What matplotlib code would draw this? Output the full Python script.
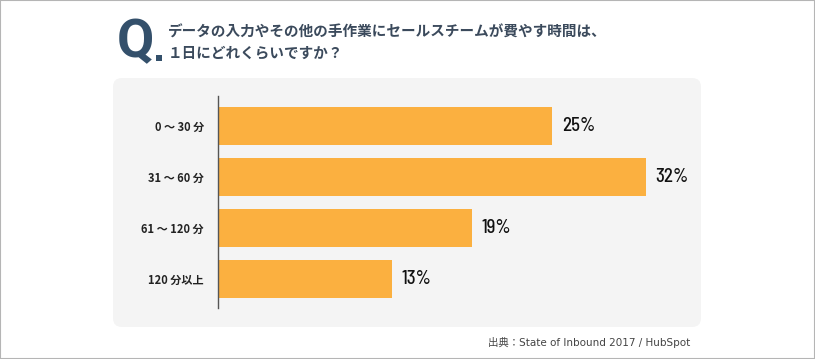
import matplotlib.pyplot as plt
from matplotlib.patches import FancyBboxPatch, Rectangle

W, H = 815, 359

categories = ["0 ～ 30 分", "31 ～ 60 分", "61 ～ 120 分", "120 分以上"]
values = [25, 32, 19, 13]
title_lines = ["データの入力やその他の手作業にセールスチームが費やす時間は、",
               "１日にどれくらいですか？"]
source = "出典：State of Inbound 2017 / HubSpot"

JP = "Noto Sans CJK JP"
SEMI = "Barlow Semi Condensed"

BAR_COLOR = "#fbb040"
NAVY = "#34506b"


def fx(x):
    return x / W


def fy(y):
    return 1 - y / H


fig = plt.figure(figsize=(W / 100, H / 100), dpi=100)
fig.patch.set_facecolor("white")

# outer border
fig.patches.append(Rectangle((0, 0), 1, 1, transform=fig.transFigure,
                             fill=False, edgecolor="#b5b5b5", linewidth=1.5))

# grey rounded panel
fig.patches.append(FancyBboxPatch((113, H - 327), 588, 249,
                                  boxstyle="round,pad=0,rounding_size=9",
                                  transform=None, facecolor="#f4f4f4",
                                  edgecolor="none", zorder=-5))

# title "Q." mark
fig.text(fx(117), fy(57), "Q", fontsize=39, fontweight="bold", color=NAVY,
         family="Roboto", ha="left", va="baseline")
fig.patches.append(Rectangle((156, H - 61), 6, 6, transform=None,
                             facecolor=NAVY, edgecolor="none"))
fig.text(fx(168), fy(32), title_lines[0], fontsize=10.5, fontweight="bold",
         color="#3b4a5c", family=JP, ha="left", va="center")
fig.text(fx(168), fy(53), title_lines[1], fontsize=10.5, fontweight="bold",
         color="#3b4a5c", family=JP, ha="left", va="center")

# bar axes
ax = fig.add_axes([fx(218), 1 - 308 / H, 535 / W, 212 / H])
ax.set_facecolor("none")
pos = list(range(len(values)))
ax.barh(pos, values, height=0.745, color=BAR_COLOR, zorder=2)
ax.set_xlim(0, 40)
ax.set_ylim(3.57, -0.59)
for s in ["top", "right", "bottom"]:
    ax.spines[s].set_visible(False)
ax.spines["left"].set_color("#555555")
ax.spines["left"].set_linewidth(1)
ax.set_xticks([])
ax.set_yticks(pos)
ax.set_yticklabels(categories, fontsize=8, fontweight="bold", family=JP,
                   color="#222222")
ax.tick_params(axis="y", length=0, pad=10)

for p, v in zip(pos, values):
    ax.annotate(f"{v}%", (v, p), xytext=(7, 0), textcoords="offset points",
                ha="left", va="center", fontsize=13.5, fontweight="medium",
                family=SEMI, color="#111111")

fig.text(fx(690), fy(343), source, fontsize=7.5, family=["DejaVu Sans", JP],
         color="#444444", ha="right", va="center")

fig.savefig("out.png", dpi=100)
